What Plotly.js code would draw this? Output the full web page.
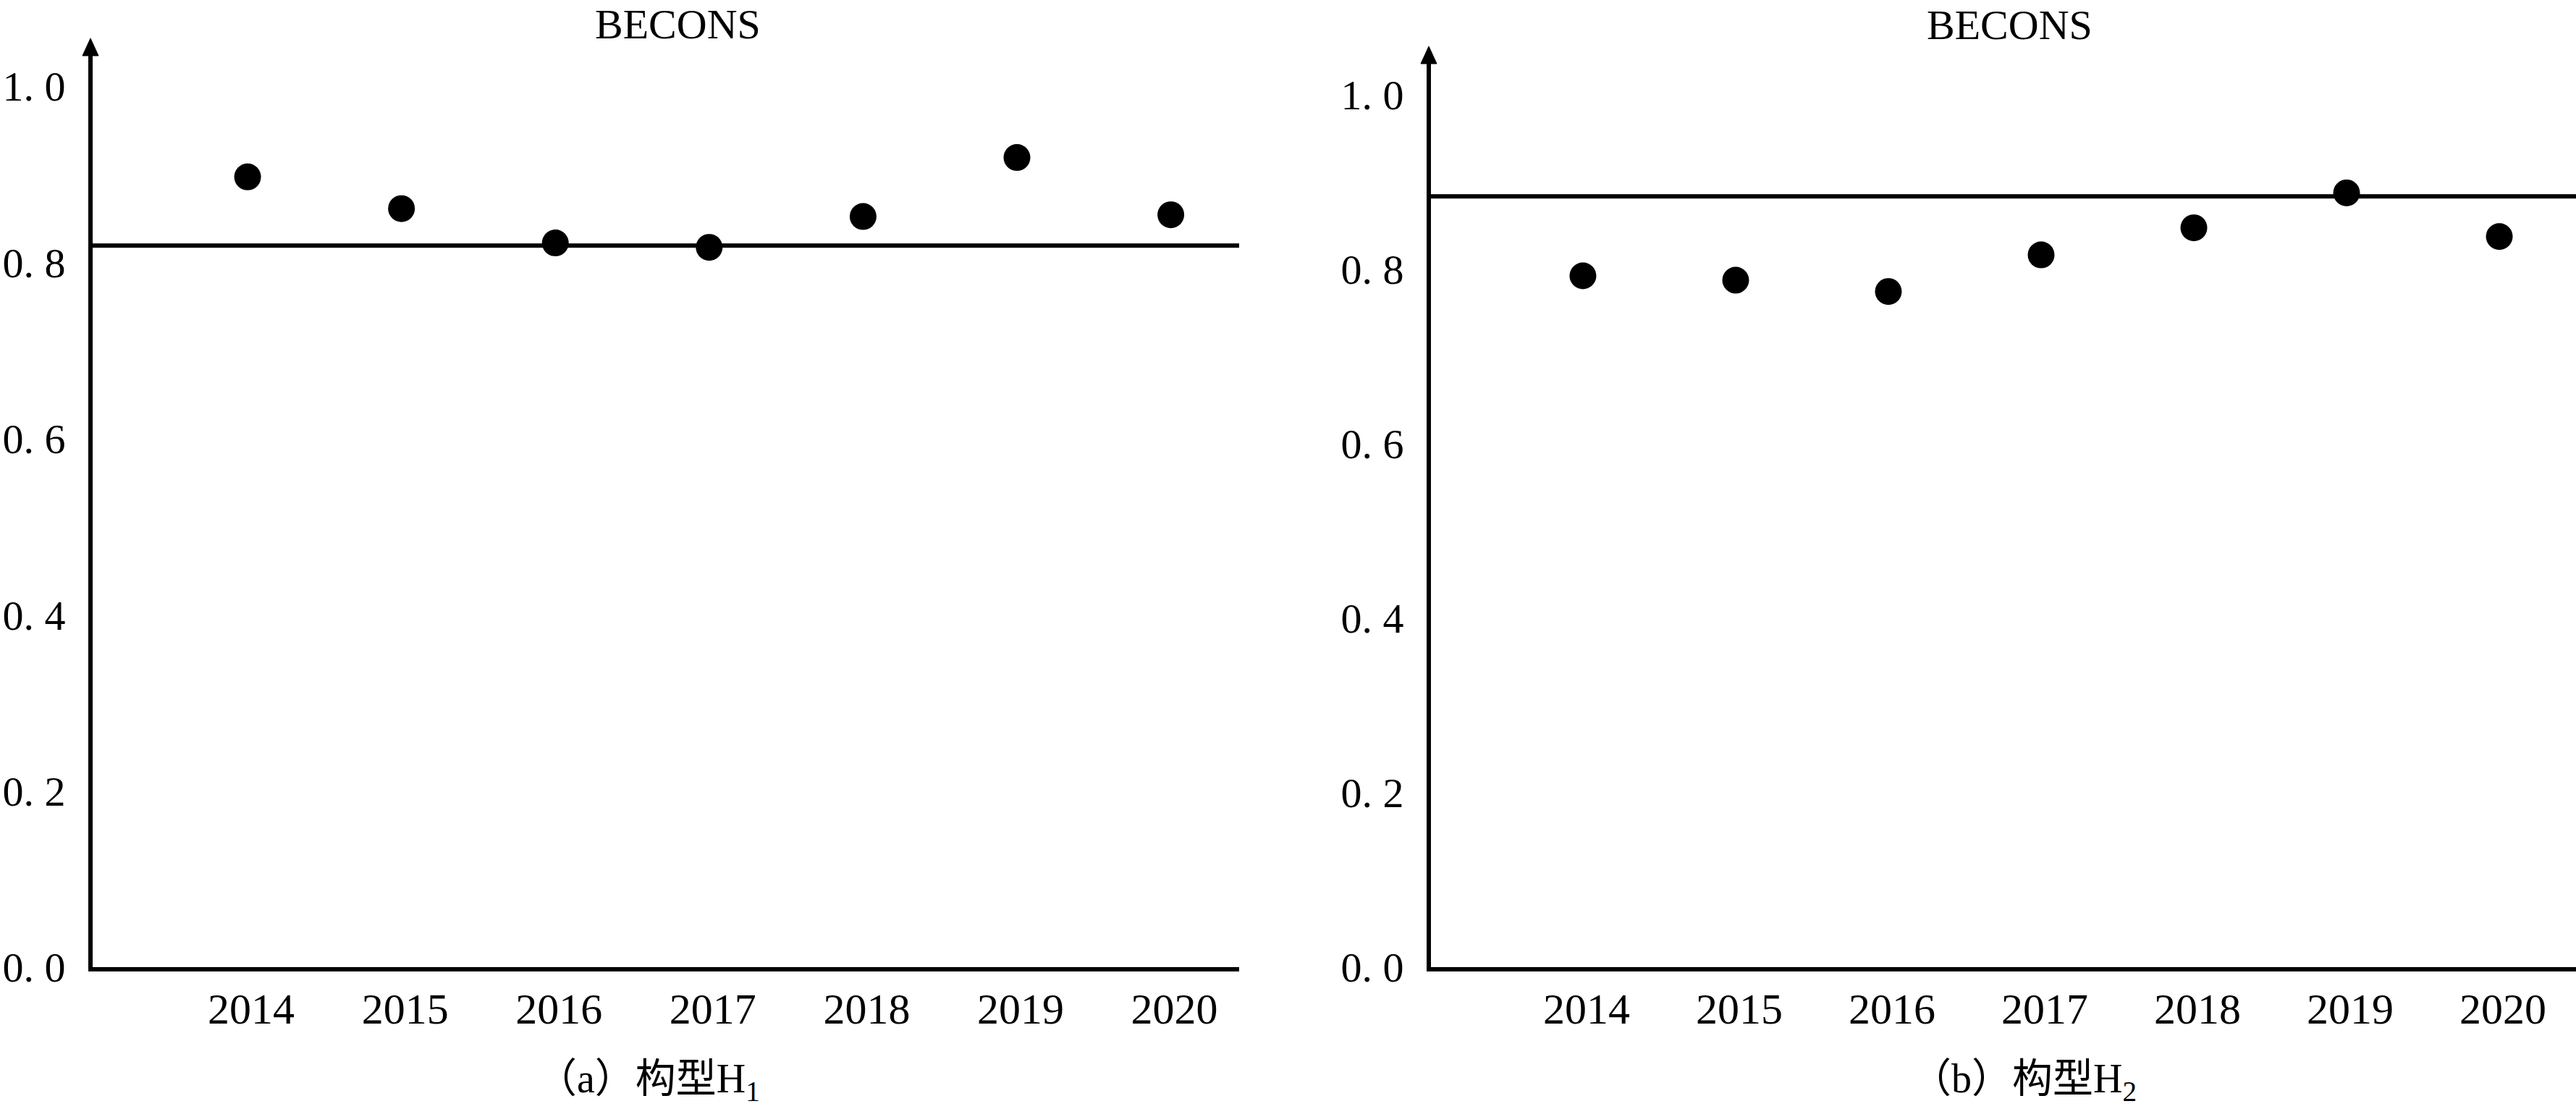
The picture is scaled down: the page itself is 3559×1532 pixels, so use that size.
<!DOCTYPE html>
<html>
<head>
<meta charset="utf-8">
<script src="https://cdn.plot.ly/plotly-3.0.1.min.js"></script>
<style>html,body{margin:0;padding:0;background:#fff;}#chart{width:3559px;height:1532px;}</style>
</head>
<body>
<div id="chart"></div>
<script>
// ---- data ----
const years = [2014, 2015, 2016, 2017, 2018, 2019, 2020];
const yearLabels = ['2014', '2015', '2016', '2017', '2018', '2019', '2020'];
const beconsH1 = [0.897, 0.861, 0.822, 0.817, 0.852, 0.919, 0.854];
const beconsH2 = [0.792, 0.787, 0.774, 0.816, 0.847, 0.887, 0.837];
const refLineH1 = 0.819;
const refLineH2 = 0.883;
const yTickVals = [0, 0.2, 0.4, 0.6, 0.8, 1.0];
const yTickText = ['0. 0', '0. 2', '0. 4', '0. 6', '0. 8', '1. 0'];
const panelTitles = ['BECONS', 'BECONS'];
const captions = ['\uFF08a\uFF09\u6784\u578BH<sub>1</sub>', '\uFF08b\uFF09\u6784\u578BH<sub>2</sub>'];

const W = 3559, H = 1532;
const serif = 'Liberation Serif, Times New Roman, serif';
const cjk = 'Liberation Serif, Noto Sans CJK SC, serif';

function marker() { return {color: '#000', size: 37, symbol: 'circle'}; }

const traces = [
  {x: years, y: beconsH1, type: 'scatter', mode: 'markers', marker: marker(), xaxis: 'x', yaxis: 'y', hoverinfo: 'skip'},
  {x: years, y: beconsH2, type: 'scatter', mode: 'markers', marker: marker(), xaxis: 'x2', yaxis: 'y2', hoverinfo: 'skip'}
];

function xax(domain, range) {
  return {
    domain: domain, range: range, showgrid: false, zeroline: false,
    showline: true, linecolor: '#000', linewidth: 6,
    tickvals: years, ticktext: yearLabels, ticks: '',
    ticklabelstandoff: 0, ticklabelshift: 5,
    tickfont: {family: serif, size: 60, color: '#000'},
    fixedrange: true
  };
}
function yax(domain, range, anchor) {
  return {
    domain: domain, range: range, showgrid: false, zeroline: false,
    showline: true, linecolor: '#000', linewidth: 6,
    tickvals: yTickVals, ticktext: yTickText, ticks: '',
    ticklabelstandoff: 20,
    tickfont: {family: serif, size: 58, color: '#000'},
    anchor: anchor, fixedrange: true
  };
}

function arrowHead(xPix, baseYPix) {
  return {
    type: 'path', xref: 'paper', yref: 'paper',
    xsizemode: 'pixel', ysizemode: 'pixel',
    xanchor: xPix / W, yanchor: 1 - baseYPix / H,
    path: 'M -11,0 L 11,0 L 0,24 Z',
    fillcolor: '#000', line: {color: '#000', width: 1}
  };
}

const layout = {
  width: W, height: H, autosize: false,
  margin: {l: 0, r: 0, t: 0, b: 0, pad: 0},
  paper_bgcolor: '#fff', plot_bgcolor: '#fff',
  showlegend: false,
  xaxis: Object.assign(xax([128 / W, 1712 / W], [2012.993, 2020.444]), {anchor: 'y'}),
  yaxis: yax([(H - 1336) / H, (H - 77) / H], [0, 1.0345], 'x'),
  xaxis2: Object.assign(xax([1977 / W, 1], [2013.005, 2020.502]), {anchor: 'y2'}),
  yaxis2: yax([(H - 1336) / H, (H - 88) / H], [0, 1.035], 'x2'),
  shapes: [
    {type: 'line', xref: 'x domain', yref: 'y', x0: 0, x1: 1, y0: refLineH1, y1: refLineH1,
     line: {color: '#000', width: 6}, layer: 'below'},
    {type: 'line', xref: 'x2 domain', yref: 'y2', x0: 0, x1: 1, y0: refLineH2, y1: refLineH2,
     line: {color: '#000', width: 6}, layer: 'below'},
    arrowHead(125, 77),
    arrowHead(1974, 88)
  ],
  annotations: [
    {text: panelTitles[0], xref: 'paper', yref: 'paper', x: 936 / W, y: 1 - 33 / H,
     xanchor: 'center', yanchor: 'middle', showarrow: false, font: {family: serif, size: 58, color: '#000'}},
    {text: panelTitles[1], xref: 'paper', yref: 'paper', x: 2776 / W, y: 1 - 35 / H,
     xanchor: 'center', yanchor: 'middle', showarrow: false, font: {family: serif, size: 58, color: '#000'}},
    {text: captions[0], xref: 'paper', yref: 'paper', x: 895 / W, y: 1 - 1494 / H,
     xanchor: 'center', yanchor: 'middle', showarrow: false, font: {family: cjk, size: 56, color: '#000'}},
    {text: captions[1], xref: 'paper', yref: 'paper', x: 2796 / W, y: 1 - 1494 / H,
     xanchor: 'center', yanchor: 'middle', showarrow: false, font: {family: cjk, size: 56, color: '#000'}}
  ]
};

Plotly.newPlot('chart', traces, layout, {displayModeBar: false, staticPlot: true});
</script>
</body>
</html>
